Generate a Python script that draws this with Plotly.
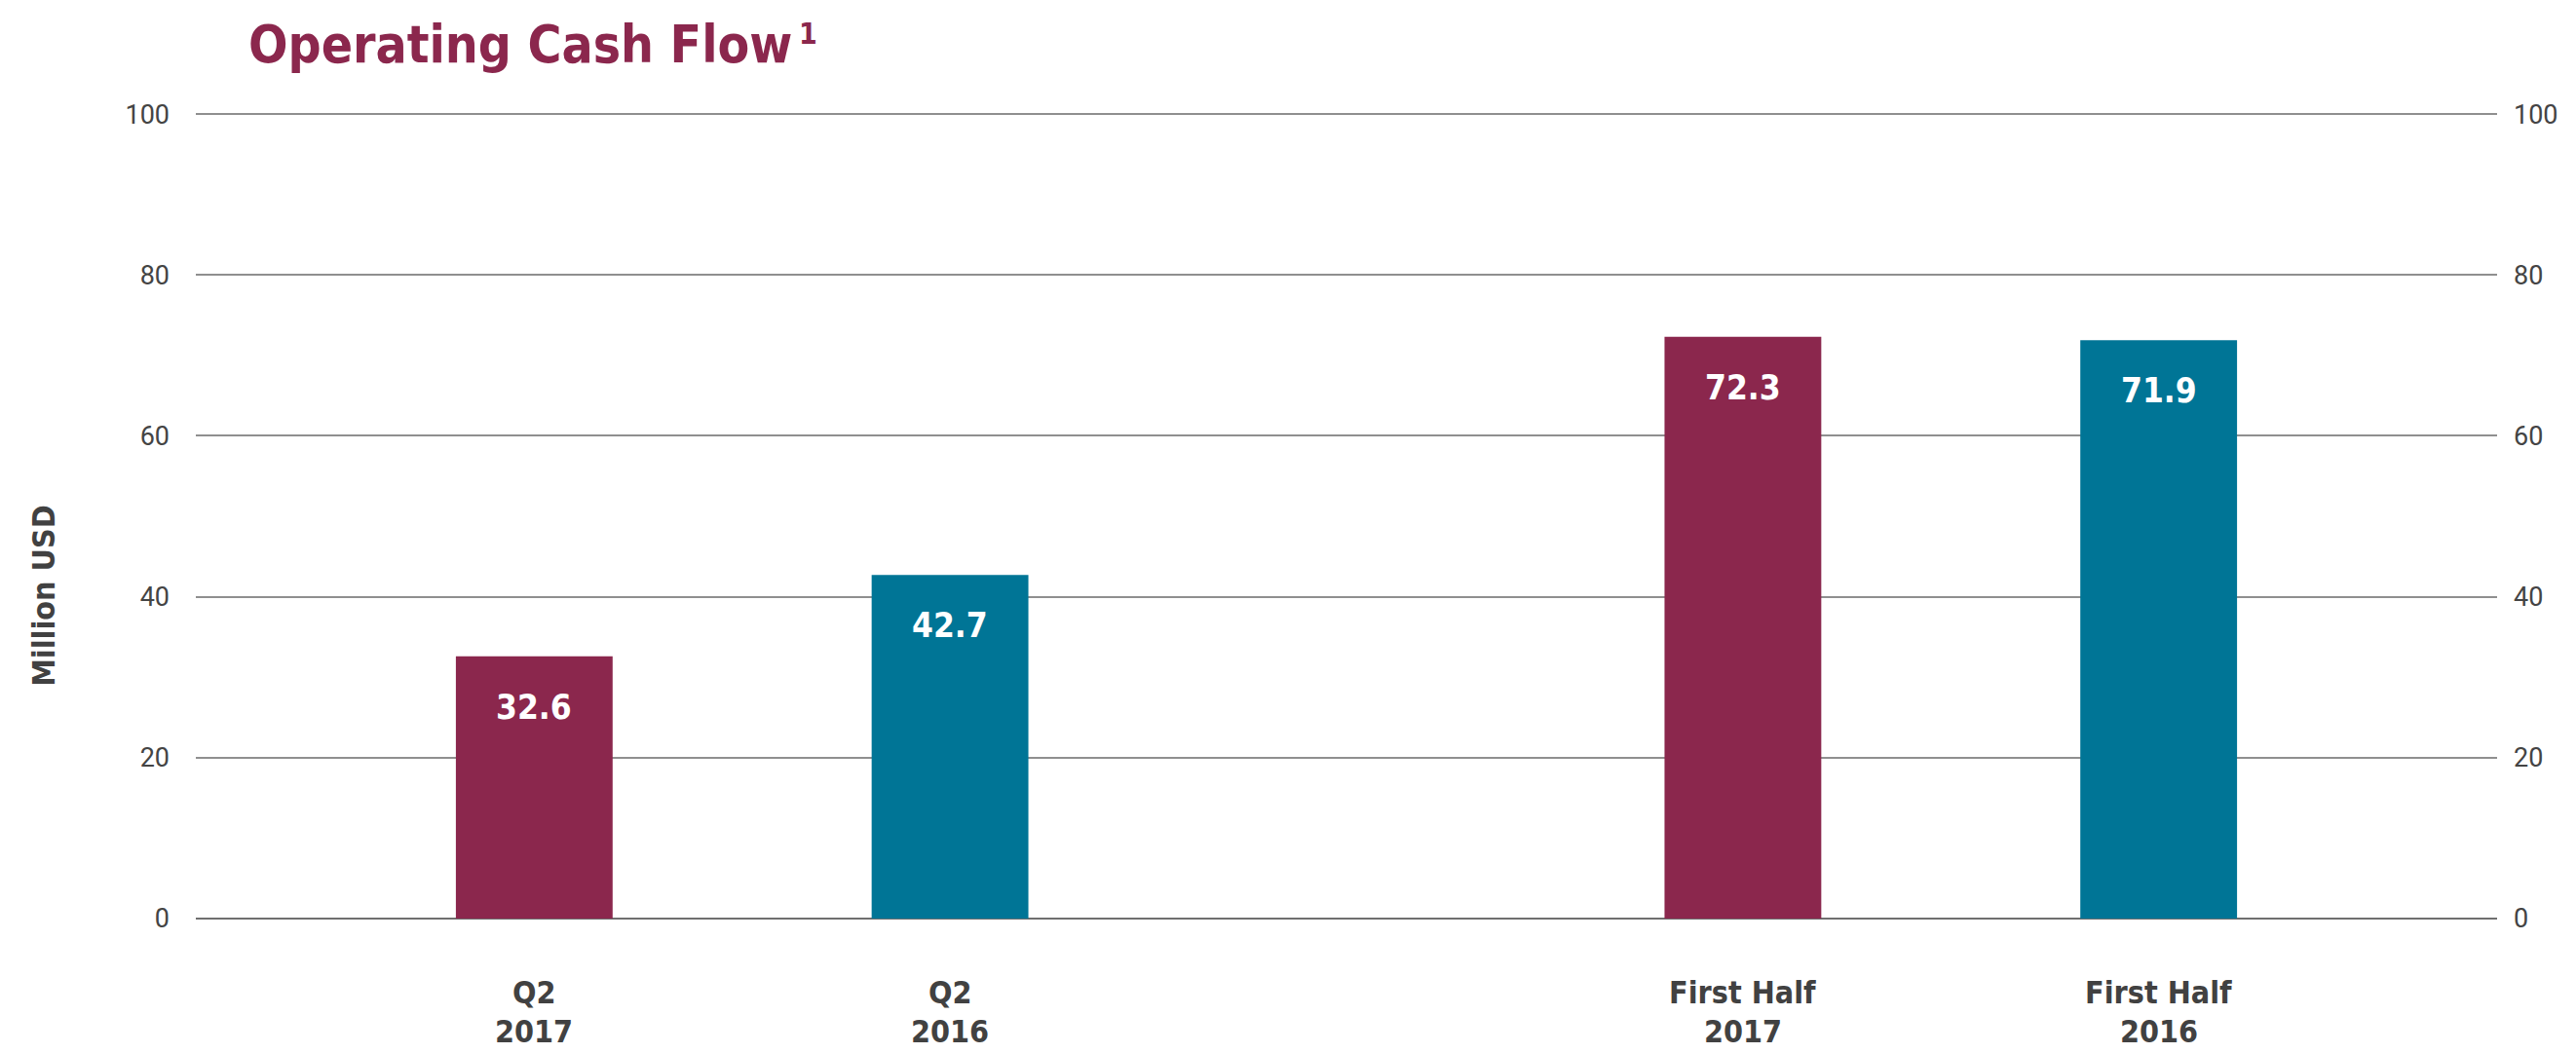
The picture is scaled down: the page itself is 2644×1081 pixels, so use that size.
import plotly.graph_objects as go

periods = ["Q2", "First Half"]
years = ["2017", "2016"]
values_2017 = [32.6, 72.3]
values_2016 = [42.7, 71.9]
series = {"2017": values_2017, "2016": values_2016}
colors = {"2017": "#8B274D", "2016": "#007596"}
y_ticks = [0, 20, 40, 60, 80, 100]

COND = "Liberation Sans Narrow, DejaVu Sans Condensed, sans-serif"
TICKFONT = dict(family="Roboto, sans-serif", size=27, color="#444444")
LABEL = "#414141"

fig = go.Figure()
for yr in years:
    fig.add_trace(go.Bar(x=periods, y=series[yr], name=yr,
                         marker=dict(color=colors[yr], line=dict(width=0)),
                         showlegend=False, hoverinfo="x+y"))

shift = {"2017": -213.5, "2016": 213.5}
ann = []
for yr in years:
    for p, v in zip(periods, series[yr]):
        ann.append(dict(x=p, y=v, xref="x", yref="y", xshift=shift[yr], yshift=-52,
                        yanchor="middle", xanchor="center", showarrow=False,
                        text=f"<b>{v:.1f}</b>", font=dict(family=COND, size=35, color="white")))
        ann.append(dict(x=p, y=0, xref="x", yref="paper", xshift=shift[yr], yshift=-75.5,
                        yanchor="middle", xanchor="center", showarrow=False,
                        text=f"<b>{p}</b>", font=dict(family=COND, size=32, color=LABEL)))
        ann.append(dict(x=p, y=0, xref="x", yref="paper", xshift=shift[yr], yshift=-115.5,
                        yanchor="middle", xanchor="center", showarrow=False,
                        text=f"<b>{yr}</b>", font=dict(family=COND, size=32, color=LABEL)))

ann.append(dict(x=0, y=0.40, xref="paper", yref="paper", xshift=-156, textangle=-90,
                xanchor="center", yanchor="middle", showarrow=False,
                text="<b>Million USD</b>", font=dict(family=COND, size=32, color=LABEL)))

# title
ann.append(dict(x=0, y=1, xref="paper", yref="paper", xshift=52, yshift=70,
                xanchor="left", yanchor="middle", showarrow=False,
                text="<b>Operating Cash Flow</b>",
                font=dict(family=COND, size=53, color="#8B274D")))
ann.append(dict(x=0, y=1, xref="paper", yref="paper", xshift=617, yshift=81,
                xanchor="left", yanchor="middle", showarrow=False,
                text="<b>1</b>",
                font=dict(family=COND, size=30, color="#8B274D")))

fig.update_layout(
    width=2636, height=1073,
    margin=dict(l=193, r=81, t=107, b=138, pad=0),
    paper_bgcolor="white", plot_bgcolor="white",
    bargap=0.312, bargroupgap=0.623, barmode="group",
    xaxis=dict(range=[-0.452, 1.452], showticklabels=False, showgrid=False,
               zeroline=False, showline=False, ticks=""),
    yaxis=dict(range=[0, 100.25], tickvals=y_ticks, showgrid=True, gridcolor="#8f8f8f",
               gridwidth=1.5, zeroline=True, zerolinecolor="#6f6f6f", zerolinewidth=2,
               showline=False, ticks="", tickfont=TICKFONT, ticklabelstandoff=26),
    yaxis2=dict(range=[0, 100.25], tickvals=y_ticks, overlaying="y", side="right", anchor="x",
                showgrid=False, zeroline=False, showline=False, ticks="",
                tickfont=TICKFONT, ticklabelstandoff=16),
    annotations=ann,
)
fig.add_trace(go.Scatter(x=[periods[0]], y=[0], yaxis="y2", mode="markers",
                         marker=dict(opacity=0), showlegend=False, hoverinfo="skip"))

fig.write_html("out.html")
